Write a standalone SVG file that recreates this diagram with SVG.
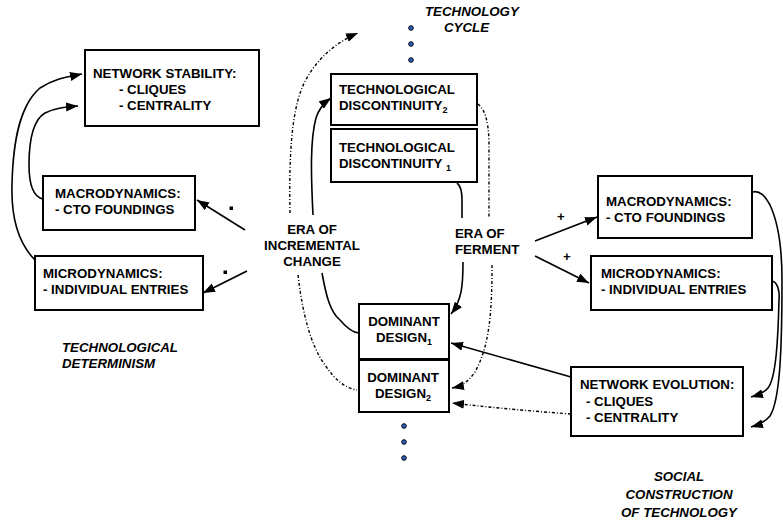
<svg xmlns="http://www.w3.org/2000/svg" width="783" height="520" viewBox="0 0 783 520">
  <style>
    .box { fill: #fff; stroke: #000; stroke-width: 2; }
    .t { font-family: "Liberation Sans", Arial, sans-serif; font-weight: bold; font-size: 13.3px; fill: #000; }
    .it { font-style: italic; }
    .sub { font-size: 9px; }
    .solid { fill: none; stroke: #000; stroke-width: 1.6; }
    .dot { fill: none; stroke: #000; stroke-width: 1.4; stroke-dasharray: 3 2 1 2; }
    .ell { fill: #2f5fc4; stroke: #000; stroke-width: 1; }
  </style>
  <defs>
    <marker id="arrow" markerUnits="userSpaceOnUse" markerWidth="13" markerHeight="10" refX="12" refY="4.5" orient="auto">
      <path d="M0,0 L12,4.5 L0,9 z" fill="#000"/>
    </marker>
  </defs>

  <rect width="783" height="520" fill="#fff"/>

  <!-- connectors -->
  <g id="connectors">
    <!-- left side: dynamics feeding network stability -->
    <path class="solid" d="M35,260 C20,245 11,220 12,185 C13,140 20,105 40,88 C55,78 68,77 82,74" marker-end="url(#arrow)"/>
    <path class="solid" d="M43,199 C34,197 29,185 29,165 C29,140 33,120 45,113 C55,108 65,107 78,106" marker-end="url(#arrow)"/>
    <path class="solid" d="M245,230 L197,200" marker-end="url(#arrow)"/>
    <path class="solid" d="M247,271 L203,293" marker-end="url(#arrow)"/>
    <rect x="229.5" y="206.5" width="3.5" height="3.5" fill="#000"/>
    <rect x="223.5" y="270.5" width="3.5" height="3.5" fill="#000"/>

    <!-- technology cycle, left half -->
    <path class="solid" d="M313,215 C311,175 310,140 316,118 C319,108 324,103 331,98" marker-end="url(#arrow)"/>
    <path class="dot" d="M290,213 C289,160 291,115 302,88 C312,64 332,44 358,33" marker-end="url(#arrow)"/>
    <path class="solid" d="M322,273 C326,295 330,312 340,320 C346,327 352,333 359,333"/>
    <path class="dot" d="M298,275 C302,310 310,345 325,365 C335,380 345,388 357,390"/>

    <!-- technology cycle, right half -->
    <path class="solid" d="M457,183 C461,186 462,192 462,200 L462,218"/>
    <path class="dot" d="M478,104 C485,110 488,120 489,140 L489,218"/>
    <path class="solid" d="M463,262 C463,285 462,300 451,314" marker-end="url(#arrow)"/>
    <path class="dot" d="M492,265 C492,310 490,345 475,372 C468,382 462,386 452,388" marker-end="url(#arrow)"/>

    <!-- era of ferment to dynamics -->
    <path class="solid" d="M535,241 L597,217" marker-end="url(#arrow)"/>
    <path class="solid" d="M535,256 L589,283" marker-end="url(#arrow)"/>

    <!-- network evolution back to dominant designs -->
    <path class="solid" d="M571,377 L451,343" marker-end="url(#arrow)"/>
    <path class="dot" d="M571,414 C530,411 495,408 452,403" marker-end="url(#arrow)"/>

    <!-- right side: dynamics feeding network evolution -->
    <path class="solid" d="M772,281 C777,282 780,290 779,300 C778,340 776,378 768,388 C764,393 758,395 751,397" marker-end="url(#arrow)"/>
    <path class="solid" d="M752,192 C760,190 765,196 770,205 C778,222 782,245 782,280 C782,350 780,400 770,416 C765,422 758,425 751,427" marker-end="url(#arrow)"/>

    <!-- signs -->
    <text class="t" x="561" y="221" text-anchor="middle">+</text>
    <text class="t" x="567" y="261" text-anchor="middle">+</text>
  </g>

  <!-- ellipsis dots of the cycle -->
  <g id="cycle-dots">
    <circle class="ell" cx="411" cy="28" r="2.3"/>
    <circle class="ell" cx="411" cy="44" r="2.3"/>
    <circle class="ell" cx="411" cy="60" r="2.3"/>
    <circle class="ell" cx="404" cy="426" r="2.3"/>
    <circle class="ell" cx="404" cy="442" r="2.3"/>
    <circle class="ell" cx="404" cy="458" r="2.3"/>
  </g>

  <!-- nodes -->
  <g id="network-stability">
    <rect class="box" x="85" y="50" width="174" height="76"/>
    <text class="t" x="93" y="78">NETWORK STABILITY:</text>
    <text class="t" x="119" y="94">- CLIQUES</text>
    <text class="t" x="119" y="110">- CENTRALITY</text>
  </g>

  <g id="macro-left">
    <rect class="box" x="43" y="176" width="152" height="54"/>
    <text class="t" x="55" y="198">MACRODYNAMICS:</text>
    <text class="t" x="55" y="214">- CTO FOUNDINGS</text>
  </g>

  <g id="micro-left">
    <rect class="box" x="35" y="256" width="168" height="54"/>
    <text class="t" x="43" y="278">MICRODYNAMICS:</text>
    <text class="t" x="43" y="294">- INDIVIDUAL ENTRIES</text>
  </g>

  <g id="discontinuity-2">
    <rect class="box" x="331" y="74" width="146" height="51"/>
    <text class="t" x="339" y="94">TECHNOLOGICAL</text>
    <text class="t" x="339" y="110">DISCONTINUITY<tspan class="sub" dy="3">2</tspan></text>
  </g>

  <g id="discontinuity-1">
    <rect class="box" x="331" y="129" width="146" height="53"/>
    <text class="t" x="339" y="152">TECHNOLOGICAL</text>
    <text class="t" x="339" y="168">DISCONTINUITY <tspan class="sub" dy="3">1</tspan></text>
  </g>

  <g id="dominant-1">
    <rect class="box" x="359" y="304" width="90" height="55"/>
    <text class="t" x="404" y="326" text-anchor="middle">DOMINANT</text>
    <text class="t" x="404" y="342" text-anchor="middle">DESIGN<tspan class="sub" dy="3">1</tspan></text>
  </g>

  <g id="dominant-2">
    <rect class="box" x="359" y="360" width="90" height="52"/>
    <text class="t" x="403" y="382" text-anchor="middle">DOMINANT</text>
    <text class="t" x="403" y="398" text-anchor="middle">DESIGN<tspan class="sub" dy="3">2</tspan></text>
  </g>

  <g id="macro-right">
    <rect class="box" x="598" y="176" width="154" height="62"/>
    <text class="t" x="606" y="206">MACRODYNAMICS:</text>
    <text class="t" x="606" y="222">- CTO FOUNDINGS</text>
  </g>

  <g id="micro-right">
    <rect class="box" x="591" y="256" width="181" height="54"/>
    <text class="t" x="601" y="278">MICRODYNAMICS:</text>
    <text class="t" x="601" y="294">- INDIVIDUAL ENTRIES</text>
  </g>

  <g id="network-evolution">
    <rect class="box" x="571" y="367" width="172" height="69"/>
    <text class="t" x="580" y="389">NETWORK EVOLUTION:</text>
    <text class="t" x="586" y="406">- CLIQUES</text>
    <text class="t" x="586" y="422">- CENTRALITY</text>
  </g>

  <g id="era-incremental">
    <text class="t" x="312" y="234" text-anchor="middle">ERA OF</text>
    <text class="t" x="312" y="250" text-anchor="middle">INCREMENTAL</text>
    <text class="t" x="312" y="266" text-anchor="middle">CHANGE</text>
  </g>

  <g id="era-ferment">
    <text class="t" x="455" y="238">ERA OF</text>
    <text class="t" x="455" y="254">FERMENT</text>
  </g>

  <!-- perspective labels -->
  <g id="labels">
    <text class="t it" x="425" y="16">TECHNOLOGY</text>
    <text class="t it" x="444" y="32">CYCLE</text>
    <text class="t it" x="62" y="352">TECHNOLOGICAL</text>
    <text class="t it" x="62" y="368">DETERMINISM</text>
    <text class="t it" x="679" y="481" text-anchor="middle">SOCIAL</text>
    <text class="t it" x="679" y="499" text-anchor="middle">CONSTRUCTION</text>
    <text class="t it" x="679" y="517" text-anchor="middle">OF TECHNOLOGY</text>
  </g>
</svg>
